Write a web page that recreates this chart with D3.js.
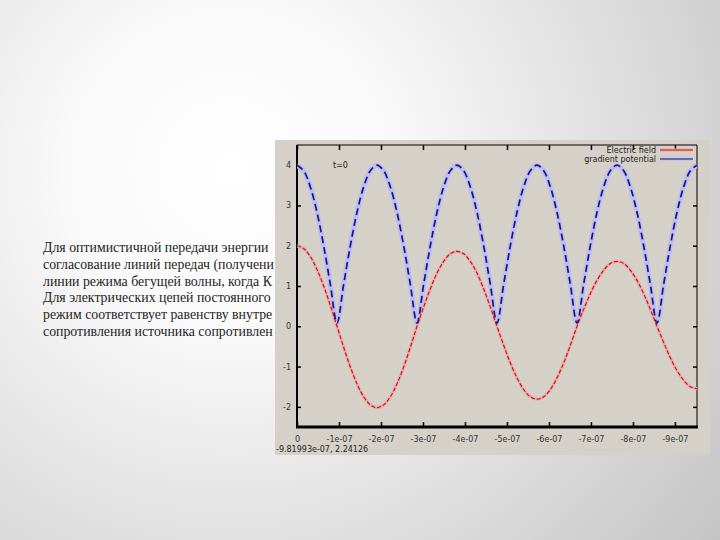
<!DOCTYPE html>
<html><head><meta charset="utf-8">
<script src="https://cdn.jsdelivr.net/npm/d3@7"></script>
<style>html,body{margin:0;padding:0;overflow:hidden;background:#fff}
.slide{font-family:"Liberation Serif","Times New Roman","DejaVu Serif",serif}</style>
</head><body>
<script>
// ---- data (x in units of 1e-07, plotted toward negative values) ----
const xValues = [0,0.159,0.3175,0.476,0.635,0.794,0.9525,1.111,1.27,1.429,1.5875,1.746,1.905,2.064,2.2225,2.381,2.54,2.699,2.8575,3.016,3.175,3.334,3.4925,3.651,3.81,3.969,4.1275,4.286,4.445,4.604,4.7625,4.921,5.08,5.239,5.3975,5.556,5.715,5.874,6.0325,6.191,6.35,6.509,6.6675,6.826,6.985,7.144,7.3025,7.461,7.62,7.779,7.9375,8.096,8.255,8.414,8.5725,8.731,8.89,9.049,9.2075,9.366,9.525];
const electricField = [2.00,1.93,1.73,1.41,1.00,0.52,0,-0.52,-1.01,-1.43,-1.75,-1.95,-2.02,-1.95,-1.75,-1.43,-1.01,-0.52,0,0.48,0.93,1.32,1.61,1.80,1.86,1.80,1.61,1.32,0.93,0.48,0,-0.47,-0.91,-1.28,-1.57,-1.75,-1.81,-1.75,-1.57,-1.28,-0.91,-0.47,0,0.42,0.81,1.14,1.39,1.56,1.61,1.56,1.39,1.14,0.81,0.42,0,-0.40,-0.78,-1.10,-1.34,-1.50,-1.55];
const gradientPotential = [4,3.86,3.46,2.83,2.0,1.04,0.08,1.04,2.0,2.83,3.46,3.86,4,3.86,3.46,2.83,2.0,1.04,0.08,1.04,2.0,2.83,3.46,3.86,4,3.86,3.46,2.83,2.0,1.04,0.08,1.04,2.0,2.83,3.46,3.86,4,3.86,3.46,2.83,2.0,1.04,0.08,1.04,2.0,2.83,3.46,3.86,4,3.86,3.46,2.83,2.0,1.04,0.08,1.04,2.0,2.83,3.46,3.86,4];
const xTickValues = [0,-1e-7,-2e-7,-3e-7,-4e-7,-5e-7,-6e-7,-7e-7,-8e-7,-9e-7];
const xTickLabels = ["0","-1e-07","-2e-07","-3e-07","-4e-07","-5e-07","-6e-07","-7e-07","-8e-07","-9e-07"];
const yTickValues = [4,3,2,1,0,-1,-2];
const yTickLabels = ["4","3","2","1","0","-1","-2"];
const seriesNames = ["Electric field","gradient potential"];
const slideLines = [
  "Для оптимистичной передачи энергии",
  "согласование линий передач (получени",
  "линии режима бегущей волны, когда К",
  "Для электрических цепей постоянного",
  "режим соответствует равенству внутре",
  "сопротивления источника сопротивлен"
];
const timeLabel = "t=0";
const cursorReadout = "-9.81993e-07,  2.24126";

const W = 720, H = 540;
const svg = d3.select("body").append("svg").attr("width", W).attr("height", H);
const defs = svg.append("defs");

// slide background
const rg = defs.append("radialGradient").attr("id","bg").attr("gradientUnits","userSpaceOnUse")
  .attr("cx",230).attr("cy",170).attr("r",620);
rg.append("stop").attr("offset","0%").attr("stop-color","#ffffff");
rg.append("stop").attr("offset","25%").attr("stop-color","#fafafa");
rg.append("stop").attr("offset","100%").attr("stop-color","#c4c4c4");
svg.append("rect").attr("width",W).attr("height",H).attr("fill","url(#bg)");

// slide text (only the part not hidden by the picture)
const tg = svg.append("g");
const lineNodes = tg.selectAll("text").data(slideLines).join("text")
  .attr("class","slide")
  .attr("x",43).attr("y",(d,i)=>252 + i*16.8)
  .attr("font-size",14.5).attr("fill","#1e1e1e").text(d=>d);
let maxW = 0;
lineNodes.each(function(){ maxW = Math.max(maxW, this.getComputedTextLength()); });
if (maxW > 231) lineNodes.attr("font-size", 14.5 * 231 / maxW);

// gnuplot window panel
svg.append("rect").attr("x",275).attr("y",140).attr("width",435).attr("height",315).attr("fill","#d5d1c9");

const x = d3.scaleLinear().domain([0,-9.525e-7]).range([297,697]);
const y = d3.scaleLinear().domain([-2.5,4.5]).range([427,145]);

const tickFont = "'DejaVu Sans', sans-serif";
// axes
const gx = svg.append("g").attr("transform","translate(0,427)")
  .call(d3.axisBottom(x).tickValues(xTickValues).tickFormat((d,i)=>xTickLabels[i]).tickSize(-5).tickPadding(9));
const gxt = svg.append("g").attr("transform","translate(0,145)")
  .call(d3.axisTop(x).tickValues(xTickValues).tickFormat("").tickSize(-5));
const gy = svg.append("g").attr("transform","translate(297,0)")
  .call(d3.axisLeft(y).tickValues(yTickValues).tickFormat((d,i)=>yTickLabels[i]).tickSize(-4).tickPadding(6));
const gyr = svg.append("g").attr("transform","translate(697,0)")
  .call(d3.axisRight(y).tickValues(yTickValues).tickFormat("").tickSize(-4));
[gx,gxt,gy,gyr].forEach(g=>{
  g.selectAll("text").style("font-family",tickFont).attr("font-size",8).attr("fill","#333");
  g.selectAll(".tick line").attr("stroke","#000").attr("stroke-width",1.5);
  g.select(".domain").remove();
});
// frame
svg.append("line").attr("x1",297).attr("x2",697).attr("y1",145).attr("y2",145).attr("stroke","#000").attr("stroke-width",1);
svg.append("line").attr("x1",697).attr("x2",697).attr("y1",145).attr("y2",427).attr("stroke","#000").attr("stroke-width",1);
svg.append("line").attr("x1",297).attr("x2",297).attr("y1",145).attr("y2",428).attr("stroke","#000").attr("stroke-width",2);
svg.append("line").attr("x1",296).attr("x2",698).attr("y1",427).attr("y2",427).attr("stroke","#000").attr("stroke-width",3);

// curves
defs.append("clipPath").attr("id","plotclip").append("rect").attr("x",297).attr("y",145).attr("width",400).attr("height",282);
const pg = svg.append("g").attr("clip-path","url(#plotclip)");
const idx = d3.range(xValues.length);
const lineOf = arr => d3.line().x(i=>x(-xValues[i]*1e-7)).y(i=>y(arr[i])).curve(d3.curveCatmullRom)(idx);

pg.append("path").attr("d",lineOf(gradientPotential)).attr("fill","none").attr("stroke","#bdbdee").attr("stroke-width",5);
pg.append("path").attr("d",lineOf(electricField)).attr("fill","none").attr("stroke","#f0a8a8").attr("stroke-width",3.2);
pg.append("path").attr("d",lineOf(electricField)).attr("fill","none").attr("stroke","#b01818").attr("stroke-width",1.1).attr("stroke-dasharray","4,2");
pg.append("path").attr("d",lineOf(gradientPotential)).attr("fill","none").attr("stroke","#14148c").attr("stroke-width",1.7).attr("stroke-dasharray","7,4");

// labels
svg.append("text").attr("x",333).attr("y",168).style("font-family",tickFont).attr("font-size",8).attr("fill","#222").text(timeLabel);

const legY = [150,159];
const lg = svg.append("g");
lg.selectAll("text").data(seriesNames).join("text")
  .attr("x",656).attr("y",(d,i)=>legY[i]+3).attr("text-anchor","end")
  .style("font-family",tickFont).attr("font-size",8).attr("fill","#222").text(d=>d);
const legColors = [["#f0a8a8","#d01010"],["#bdbdee","#14148c"]];
seriesNames.forEach((n,i)=>{
  lg.append("line").attr("x1",660).attr("x2",693).attr("y1",legY[i]).attr("y2",legY[i]).attr("stroke",legColors[i][0]).attr("stroke-width",3);
  lg.append("line").attr("x1",660).attr("x2",693).attr("y1",legY[i]).attr("y2",legY[i]).attr("stroke",legColors[i][1]).attr("stroke-width",1.2);
});

svg.append("text").attr("x",276).attr("y",452).style("font-family",tickFont).attr("font-size",8).attr("fill","#222").text(cursorReadout);
</script>
</body></html>
